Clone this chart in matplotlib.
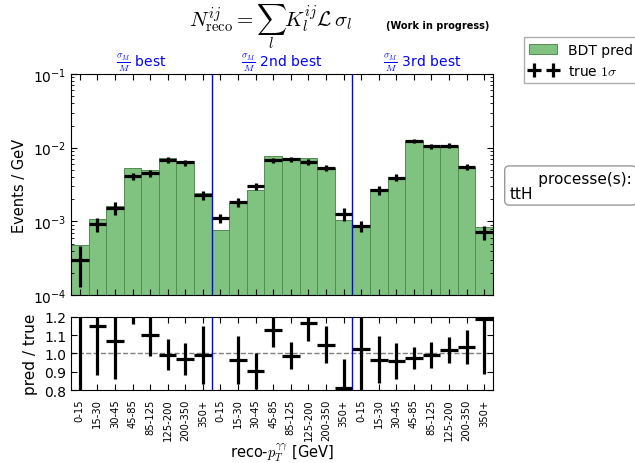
import numpy as np
import matplotlib
matplotlib.use("Agg")
import matplotlib.pyplot as plt

# reco-pT(gamma gamma) bins, repeated for the three sigma_M/M categories
pt_bins = ["0-15", "15-30", "30-45", "45-85", "85-125", "125-200", "200-350", "350+"]
categories = [r"$\frac{\sigma_M}{M}$ best", r"$\frac{\sigma_M}{M}$ 2nd best", r"$\frac{\sigma_M}{M}$ 3rd best"]

# BDT prediction (events / GeV)
bdt_pred = [4.8e-4, 1.07e-3, 1.63e-3, 5.3e-3, 5.0e-3, 7.15e-3, 6.5e-3, 2.45e-3,
            7.6e-4, 1.8e-3, 2.7e-3, 7.6e-3, 7.1e-3, 7.35e-3, 5.3e-3, 1.05e-3,
            8.7e-4, 2.75e-3, 3.95e-3, 1.24e-2, 1.05e-2, 1.07e-2, 5.5e-3, 8.3e-4]

# true yields and 1 sigma uncertainty (events / GeV)
true_val = [3.0e-4, 9.2e-4, 1.53e-3, 4.1e-3, 4.5e-3, 6.8e-3, 6.3e-3, 2.27e-3,
            1.1e-3, 1.81e-3, 2.98e-3, 6.8e-3, 7.0e-3, 6.4e-3, 5.3e-3, 1.26e-3,
            8.7e-4, 2.66e-3, 3.93e-3, 1.24e-2, 1.04e-2, 1.07e-2, 5.45e-3, 7.1e-4]
true_err = [1.7e-4, 2.0e-4, 3.0e-4, 4.0e-4, 4.7e-4, 5.8e-4, 5.7e-4, 3.4e-4,
            1.4e-4, 2.4e-4, 3.3e-4, 5.4e-4, 5.3e-4, 5.5e-4, 5.0e-4, 2.5e-4,
            1.5e-4, 3.5e-4, 4.0e-4, 7.5e-4, 7.3e-4, 7.5e-4, 5.0e-4, 1.6e-4]

# pred / true ratio and its uncertainty
ratio = [1.59, 1.15, 1.068, 1.30, 1.099, 0.994, 0.971, 0.993,
         0.69, 0.965, 0.903, 1.126, 0.989, 1.169, 1.049, 0.81,
         1.022, 0.967, 0.958, 0.974, 0.993, 1.02, 1.038, 1.187]
ratio_err = [0.9, 0.27, 0.21, 0.14, 0.115, 0.084, 0.088, 0.16,
             0.09, 0.13, 0.10, 0.09, 0.075, 0.10, 0.10, 0.16,
             0.25, 0.128, 0.097, 0.06, 0.07, 0.07, 0.093, 0.30]

nb = len(pt_bins)
n = len(bdt_pred)
x = np.arange(n)
tick_labels = pt_bins * len(categories)

fig = plt.figure(figsize=(6.35, 4.64), dpi=100)
ax = fig.add_axes([0.1118, 0.362, 0.6646, 0.4763])
axr = fig.add_axes([0.1118, 0.1573, 0.6646, 0.1574])

# upper panel
ax.bar(x, bdt_pred, width=1.0, bottom=0, facecolor=(0.50, 0.76, 0.50),
       edgecolor=(0.33, 0.55, 0.33), linewidth=0.7, label="BDT pred", zorder=1)
ax.errorbar(x, true_val, xerr=0.5, yerr=true_err, fmt="none", ecolor="black",
            elinewidth=2.3, capsize=0, label=r"true $1\sigma$", zorder=3)
ax.set_yscale("log")
ax.set_ylim(1e-4, 1e-1)
ax.set_xlim(-0.5, n - 0.5)
ax.set_xticks(x)
ax.set_xticklabels([])
ax.set_ylabel("Events / GeV", fontsize=10.5)
ax.tick_params(axis="both", which="both", direction="in", top=True, right=True, labelsize=10)
ax.tick_params(axis="both", which="major", length=4)
ax.tick_params(axis="both", which="minor", length=2)

for k in range(1, len(categories)):
    ax.axvline(k * nb - 0.5, color="blue", linewidth=1.0, zorder=4)
    axr.axvline(k * nb - 0.5, color="blue", linewidth=1.0, zorder=4)

for k, name in enumerate(categories):
    ax.text(k * nb + (nb - 1) / 2.0, 1.005, name, transform=ax.get_xaxis_transform(),
            ha="center", va="bottom", color="blue", fontsize=10, math_fontfamily="cm")

# lower panel
axr.axhline(1.0, color="gray", linestyle="--", linewidth=1.0, zorder=1)
axr.errorbar(x, ratio, xerr=0.5, yerr=ratio_err, fmt="none", ecolor="black",
             elinewidth=2.3, capsize=0, zorder=3)
axr.set_ylim(0.8, 1.2)
axr.set_xlim(-0.5, n - 0.5)
axr.set_yticks([0.8, 0.9, 1.0, 1.1, 1.2])
axr.set_xticks(x)
axr.set_xticklabels(tick_labels, rotation=90, fontsize=7.2)
axr.set_ylabel("pred / true", fontsize=11)
axr.set_xlabel(r"reco-$p_T^{\gamma\gamma}$ [GeV]", fontsize=10.5, math_fontfamily="cm",
               labelpad=1)
axr.tick_params(axis="both", direction="in", top=True, right=True, length=4)
axr.tick_params(axis="x", pad=6)
axr.tick_params(axis="y", labelsize=10)

fig.text(0.426, 0.942, r"$N^{ij}_{\rm reco} = \sum_l K^{ij}_l \mathcal{L}\,\sigma_l$",
         ha="center", va="center", fontsize=15, math_fontfamily="cm")
fig.text(0.690, 0.943, "(Work in progress)", ha="center", va="center",
         fontsize=7, fontweight="bold")

leg = fig.legend(loc="upper left", bbox_to_anchor=(0.825, 0.918), numpoints=2,
                 fontsize=10, frameon=True, fancybox=False, edgecolor="0.6",
                 borderaxespad=0, handlelength=2.0)
for t in leg.get_texts():
    t.set_math_fontfamily("cm")

fig.text(0.802, 0.598, "      processe(s):\nttH", ha="left", va="center", fontsize=11,
         linespacing=1.0,
         bbox=dict(boxstyle="round,pad=0.3", facecolor="white", edgecolor="0.6"))

fig.savefig("out.png", dpi=100)
